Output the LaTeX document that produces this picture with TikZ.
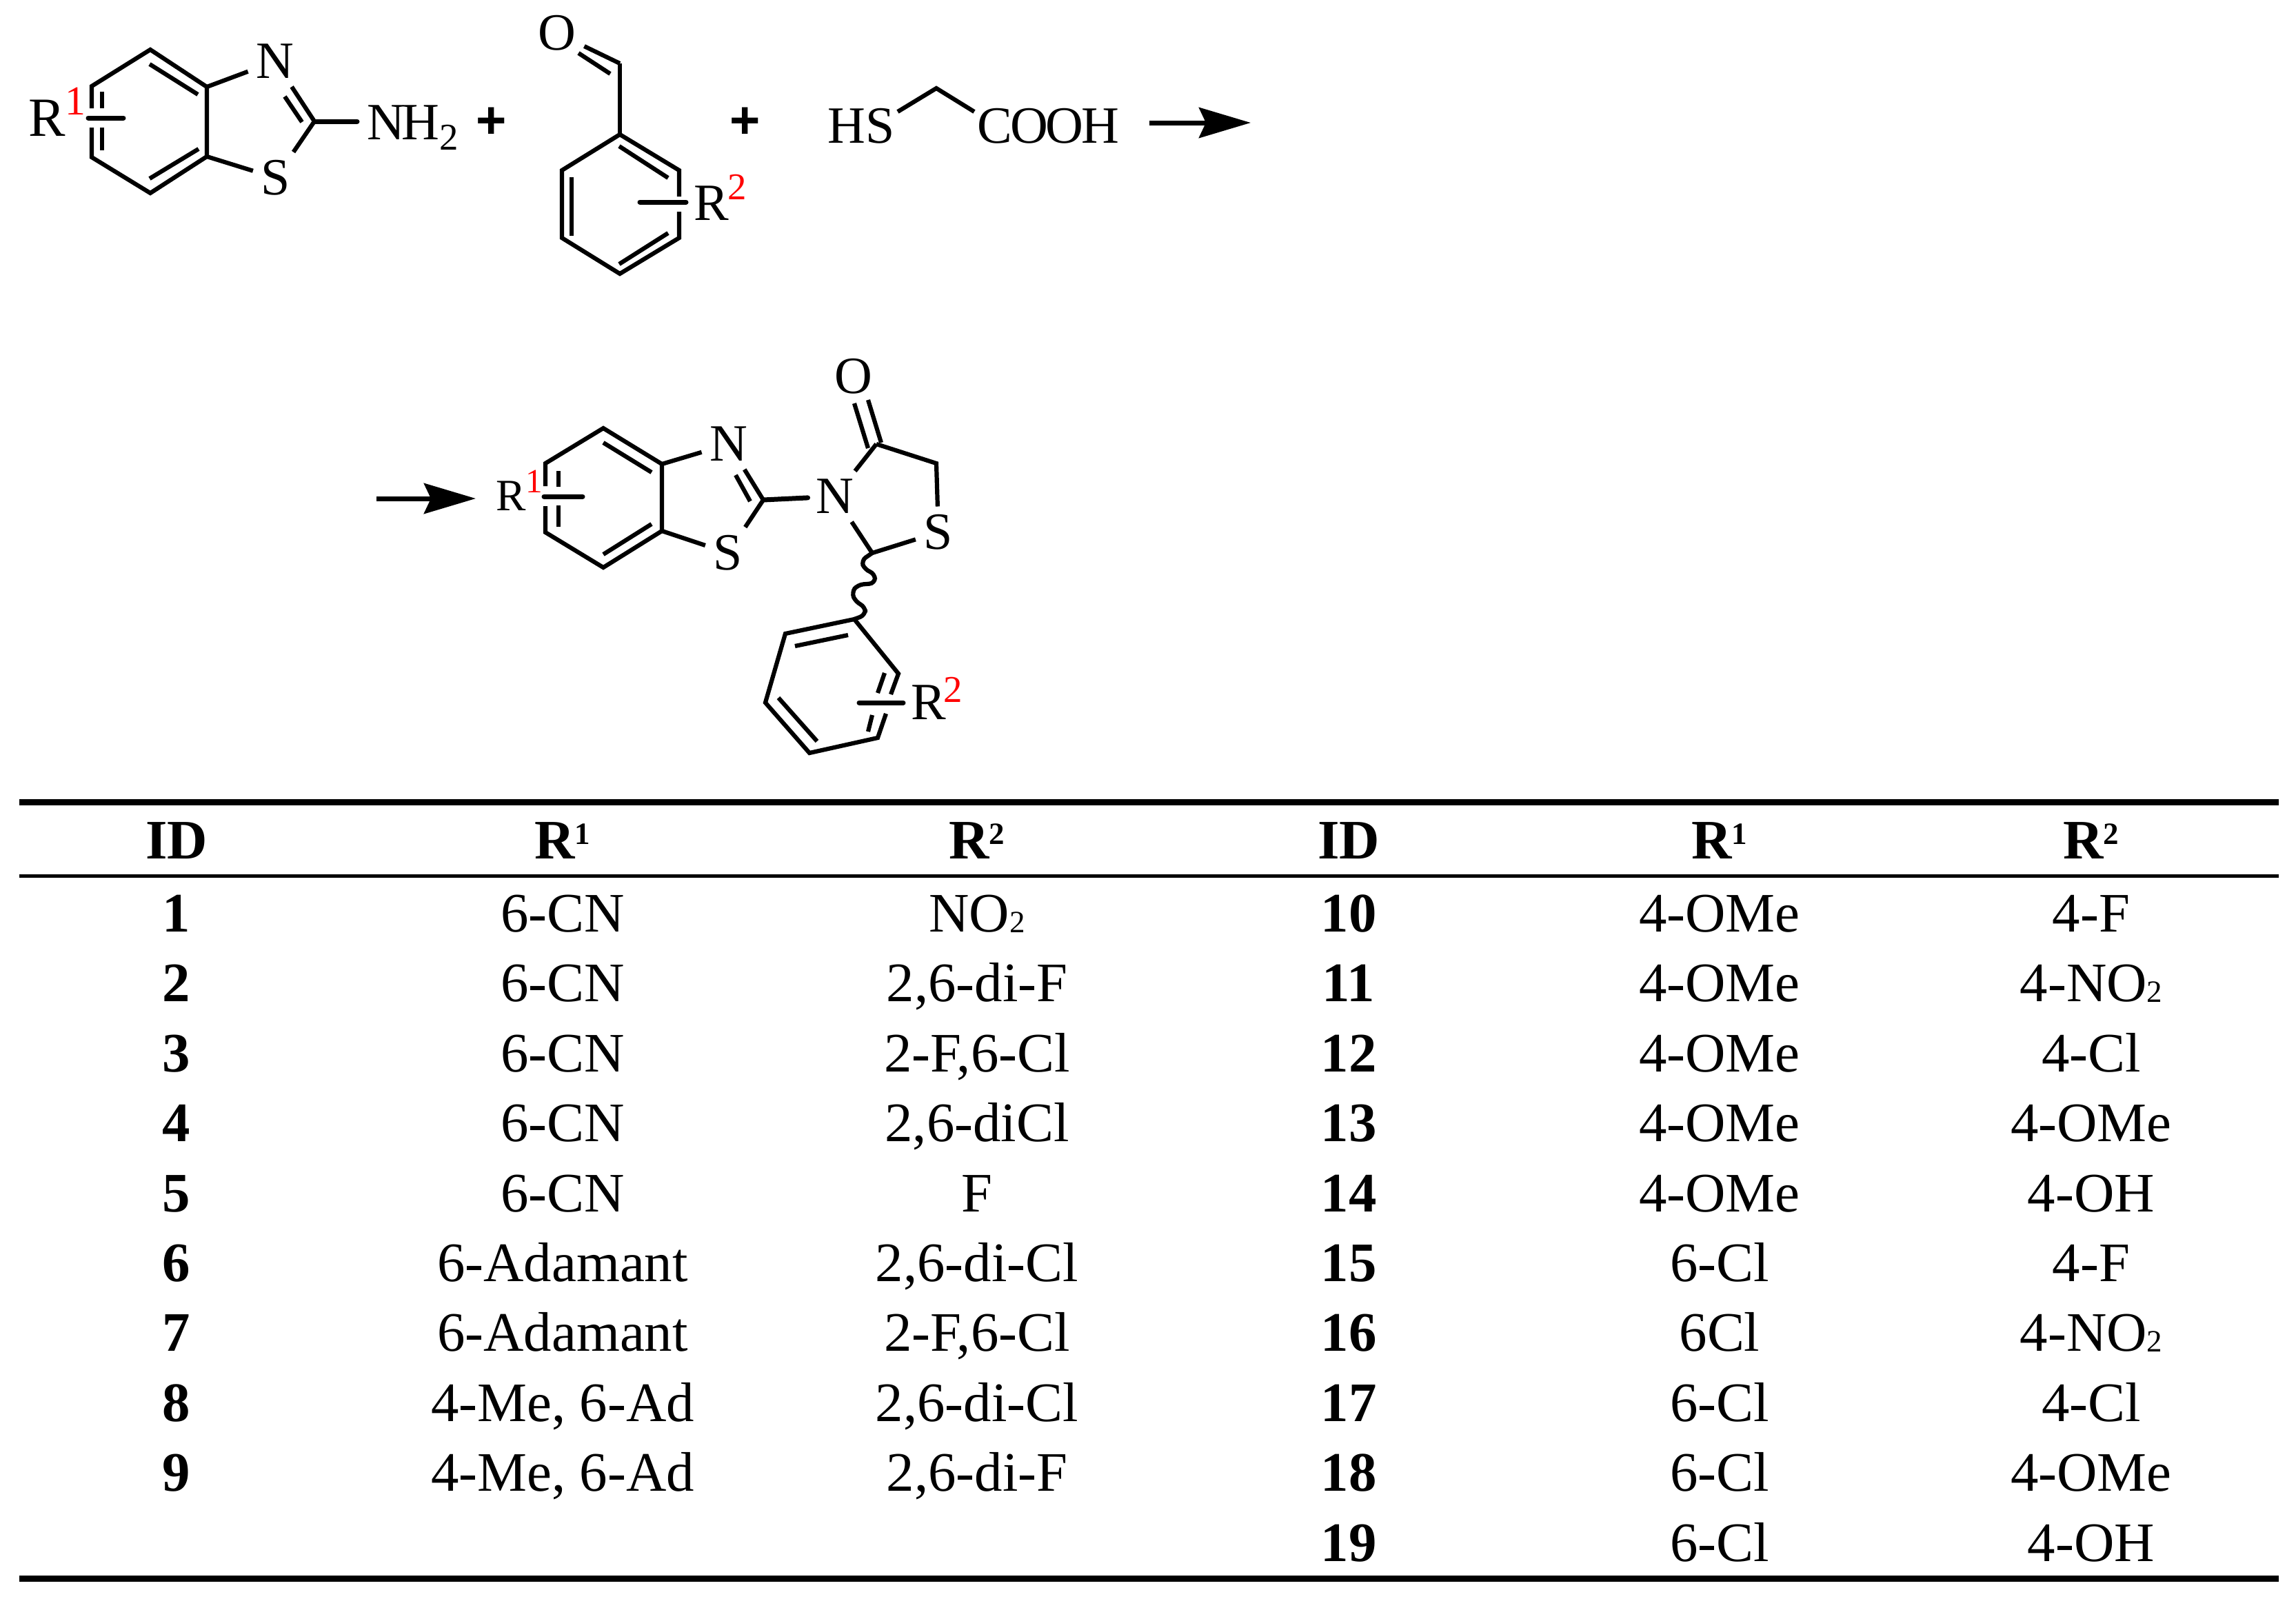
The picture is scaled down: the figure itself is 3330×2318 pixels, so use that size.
\documentclass[tikz,border=0pt]{standalone}
\usepackage{fontspec}
\setmainfont{Liberation Serif}
\setsansfont{Liberation Sans}
\usepackage{xcolor}
\usepackage{tikz}
\usetikzlibrary{arrows.meta}
\newcommand{\chemfont}{\fontsize{21.6}{24}\selectfont}
\newcommand{\tablefont}{\fontsize{23}{26}\selectfont}
\newcommand{\tablesub}{\raisebox{-.2pt}{\fontsize{12.8}{14}\selectfont 2}}
\newcommand{\headsup}[1]{\raisebox{6pt}{\fontsize{12.8}{14}\selectfont #1}}
\tikzstyle{bond} = [line width=.62mm]
\tikzstyle{bar} = [line width=.7mm,line cap=round]
\tikzstyle{arrow} = [line width=.7mm,->,>={Stealth[length=7.5mm,width=4.4mm,inset=1mm]}]
\tikzstyle{atom} = [inner sep=0pt,outer sep=1.2mm,font=\chemfont]
\tikzstyle{chem} = [inner sep=0pt,anchor=base west,font=\chemfont]
\tikzstyle{plus} = [inner sep=0pt,font=\chemfont\sffamily\bfseries]
\tikzstyle{redone} = [inner sep=0pt,anchor=base west,text=red]
\tikzstyle{cell} = [inner sep=0pt,text height=5.8mm,text depth=1.5mm,font=\tablefont]
\tikzstyle{cellb} = [cell,font=\tablefont\bfseries]
\tikzstyle{toprule} = [line width=.9mm]
\tikzstyle{midrule} = [line width=.5mm]

\begin{document}
\begin{tikzpicture}[x=.1mm,y=-.1mm,node distance=10.14mm]
\useasboundingbox (0,0) rectangle (3330,2318);

% benzothiazole
\coordinate (a1) at (218,72);
\coordinate (a2) at (300,126);
\coordinate (a3) at (300,227);
\coordinate (a4) at (218,280);
\coordinate (a5) at (133,228);
\coordinate (a6) at (133,125);
\coordinate (a7) at (456,176);
\coordinate (a8) at (518,176);
\coordinate (a5g) at (133,185);
\coordinate (a6g) at (133,157);
\coordinate (ab1) at (128,171);
\coordinate (ab2) at (179,171);
\coordinate (ai1) at (148,133);
\coordinate (ai2) at (148,157);
\coordinate (ai3) at (148,185);
\coordinate (ai4) at (148,218);
\coordinate (ai5) at (217,93);
\coordinate (ai6) at (287,137);
\coordinate (ai7) at (217,259);
\coordinate (ai8) at (288,216);
\coordinate (ai9) at (438,177);
\coordinate (ai10) at (413,140);
\node (an) [atom] at (399,89) {N};
\node (as) [atom] at (400,258) {S};
\node (anh) [chem] at (532,202) {N\kern-1.5pt H\raisebox{-4.3pt}{\fontsize{15.6}{16}\selectfont 2}};
\node (ar) [chem,font=\fontsize{22.8}{24}\selectfont] at (41,197) {R};
\node (ar1) [redone,font=\fontsize{17}{18}\selectfont] at (94,166) {1};
\draw [bond] (a5g) -- (a5) -- (a4) -- (a3) -- (a2) -- (a1) -- (a6) -- (a6g);
\draw [bar] (ab1) -- (ab2);
\draw [bond] (ai1) -- (ai2);
\draw [bond] (ai3) -- (ai4);
\draw [bond] (ai5) -- (ai6);
\draw [bond] (ai7) -- (ai8);
\draw [bond] (a2) -- (an);
\draw [bond] (a3) -- (as);
\draw [bond] (a7) -- (an);
\draw [bond] (ai9) -- (ai10);
\draw [bond] (a7) -- (as);
\draw [bar] (a7) -- (a8);
\node (plusa) [plus] at (713,178) {+};

% aldehyde
\coordinate (b0) at (899,92);
\coordinate (b1) at (899,195);
\coordinate (b2) at (985,247);
\coordinate (b3) at (985,345);
\coordinate (b4) at (899,397);
\coordinate (b5) at (815,345);
\coordinate (b6) at (815,247);
\coordinate (b2g) at (985,285);
\coordinate (b3g) at (985,307);
\coordinate (bb1) at (928,293);
\coordinate (bb2) at (995,293);
\coordinate (bi1) at (898,212);
\coordinate (bi2) at (969,258);
\coordinate (bi3) at (829,257);
\coordinate (bi4) at (829,342);
\coordinate (bi5) at (898,383);
\coordinate (bi6) at (969,338);
\coordinate (bi7) at (885,107);
\coordinate (bi8) at (839,77);
\node (bo) [atom] at (808,48) {O};
\node (br) [chem] at (1006,319) {R};
\node (br2) [redone,font=\fontsize{15.6}{16}\selectfont] at (1055,289) {2};
\draw [bond] (b2g) -- (b2) -- (b1) -- (b6) -- (b5) -- (b4) -- (b3) -- (b3g);
\draw [bond] (b1) -- (b0);
\draw [bond] (b0) -- (bo);
\draw [bond] (bi7) -- (bi8);
\draw [bar] (bb1) -- (bb2);
\draw [bond] (bi1) -- (bi2);
\draw [bond] (bi3) -- (bi4);
\draw [bond] (bi5) -- (bi6);
\node (plusb) [plus] at (1081,178) {+};

% thioglycolic acid
\node (hs) [chem] at (1200,207) {HS};
\node (cooh) [chem] at (1417,207) {C\kern-.8pt O\kern-1.2pt O\kern-.8pt H};
\coordinate (h1) at (1302,162);
\coordinate (h2) at (1358,128);
\coordinate (h3) at (1413,162);
\draw [bond] (h1) -- (h2) -- (h3);

% reaction arrows
\coordinate (ra1) at (1667,178);
\coordinate (ra2) at (1814,178);
\draw [arrow] (ra1) -- (ra2);
\coordinate (rb1) at (546,723);
\coordinate (rb2) at (690,723);
\draw [arrow] (rb1) -- (rb2);

% product
\coordinate (c1) at (875,621);
\coordinate (c2) at (960,673);
\coordinate (c3) at (960,770);
\coordinate (c4) at (875,823);
\coordinate (c5) at (791,772);
\coordinate (c6) at (791,672);
\coordinate (c7) at (1107,725);
\coordinate (c8) at (1271,644);
\coordinate (c9) at (1358,672);
\coordinate (c11) at (1265,802);
\coordinate (c5g) at (791,734);
\coordinate (c6g) at (791,705);
\coordinate (cb1) at (789,720);
\coordinate (cb2) at (845,720);
\coordinate (ci1) at (810,683);
\coordinate (ci2) at (810,706);
\coordinate (ci3) at (810,733);
\coordinate (ci4) at (810,764);
\coordinate (ci5) at (875,642);
\coordinate (ci6) at (945,685);
\coordinate (ci7) at (875,804);
\coordinate (ci8) at (945,760);
\coordinate (ci9) at (1088,727);
\coordinate (ci10) at (1067,689);
\coordinate (co1) at (1278,642);
\coordinate (co2) at (1259,580);
\coordinate (co3) at (1259,650);
\coordinate (co4) at (1239,585);
\node (cn) [atom] at (1057,644) {N};
\node (cs) [atom] at (1056,802) {S};
\node (cn2) [atom] at (1211,720) {N};
\node (cs2) [atom] at (1361,772) {S};
\node (co) [atom] at (1238,546) {O};
\node (cr) [chem,font=\fontsize{18.5}{20}\selectfont] at (719,740) {R};
\node (cr1) [redone,font=\fontsize{14}{16}\selectfont] at (762,714) {1};
\draw [bond] (c5g) -- (c5) -- (c4) -- (c3) -- (c2) -- (c1) -- (c6) -- (c6g);
\draw [bar] (cb1) -- (cb2);
\draw [bond] (ci1) -- (ci2);
\draw [bond] (ci3) -- (ci4);
\draw [bond] (ci5) -- (ci6);
\draw [bond] (ci7) -- (ci8);
\draw [bond] (c2) -- (cn);
\draw [bond] (c3) -- (cs);
\draw [bond] (c7) -- (cn);
\draw [bond] (ci9) -- (ci10);
\draw [bond] (c7) -- (cs);
\draw [bar] (c7) -- (cn2);
\draw [bond] (c8) -- (cn2);
\draw [bond] (cn2) -- (c11);
\draw [bond] (co1) -- (co2);
\draw [bond] (co3) -- (co4);
\draw [bond] (c8) -- (c9) -- (cs2);
\draw [bond] (c11) -- (cs2);

% lower ring
\coordinate (d1) at (1239,898);
\coordinate (d2) at (1139,919);
\coordinate (d3) at (1110,1019);
\coordinate (d4) at (1174,1092);
\coordinate (d5) at (1273,1070);
\coordinate (d6) at (1303,977);
\coordinate (d5g) at (1285,1035);
\coordinate (d6g) at (1292,1007);
\coordinate (db1) at (1246,1019);
\coordinate (db2) at (1310,1019);
\coordinate (di1) at (1153,937);
\coordinate (di2) at (1230,921);
\coordinate (di3) at (1129,1012);
\coordinate (di4) at (1185,1075);
\coordinate (di5) at (1283,976);
\coordinate (di6) at (1273,1005);
\coordinate (di7) at (1265,1037);
\coordinate (di8) at (1259,1061);
\node (dr) [chem] at (1321,1043) {R};
\node (dr2) [redone,font=\fontsize{15.6}{16}\selectfont] at (1368,1018) {2};
\draw [bond,rounded corners=.8mm] (c11) -- (1249,813) -- (1254,826) -- (1269,832) -- (1269,846) -- (1244,848) -- (1235,859) -- (1241,873) -- (1255,880) -- (1255,892) -- (d1);
\draw [bond] (d5g) -- (d5) -- (d4) -- (d3) -- (d2) -- (d1) -- (d6) -- (d6g);
\draw [bar] (db1) -- (db2);
\draw [bond] (di1) -- (di2);
\draw [bond] (di3) -- (di4);
\draw [bond] (di5) -- (di6);
\draw [bond] (di7) -- (di8);

% table rules
\coordinate (t1) at (28,1163);
\coordinate (t2) at (3305,1163);
\coordinate (t3) at (28,1270);
\coordinate (t4) at (3305,1270);
\coordinate (t5) at (28,2289);
\coordinate (t6) at (3305,2289);
\draw [toprule] (t1) -- (t2);
\draw [midrule] (t3) -- (t4);
\draw [toprule] (t5) -- (t6);

% table header
\node (hid) [cellb] at (256,1224) {ID};
\node (hra) [cellb] at (816,1224) {R\headsup{1}};
\node (hrb) [cellb] at (1417,1224) {R\headsup{2}};
\node (hidr) [cellb] at (1956,1224) {ID};
\node (hrar) [cellb] at (2494,1224) {R\headsup{1}};
\node (hrbr) [cellb] at (3033,1224) {R\headsup{2}};

% left half
\node (id1) [cellb] at (256,1330) {1};
\node (id2) [cellb, below of=id1] {2};
\node (id3) [cellb, below of=id2] {3};
\node (id4) [cellb, below of=id3] {4};
\node (id5) [cellb, below of=id4] {5};
\node (id6) [cellb, below of=id5] {6};
\node (id7) [cellb, below of=id6] {7};
\node (id8) [cellb, below of=id7] {8};
\node (id9) [cellb, below of=id8] {9};
\node (ra1n) [cell] at (816,1330) {6-CN};
\node (ra2n) [cell, below of=ra1n] {6-CN};
\node (ra3n) [cell, below of=ra2n] {6-CN};
\node (ra4n) [cell, below of=ra3n] {6-CN};
\node (ra5n) [cell, below of=ra4n] {6-CN};
\node (ra6n) [cell, below of=ra5n] {6-Adamant};
\node (ra7n) [cell, below of=ra6n] {6-Adamant};
\node (ra8n) [cell, below of=ra7n] {4-Me, 6-Ad};
\node (ra9n) [cell, below of=ra8n] {4-Me, 6-Ad};
\node (rb1n) [cell] at (1417,1330) {NO\tablesub};
\node (rb2n) [cell, below of=rb1n] {2,6-di-F};
\node (rb3n) [cell, below of=rb2n] {2-F,6-Cl};
\node (rb4n) [cell, below of=rb3n] {2,6-diCl};
\node (rb5n) [cell, below of=rb4n] {F};
\node (rb6n) [cell, below of=rb5n] {2,6-di-Cl};
\node (rb7n) [cell, below of=rb6n] {2-F,6-Cl};
\node (rb8n) [cell, below of=rb7n] {2,6-di-Cl};
\node (rb9n) [cell, below of=rb8n] {2,6-di-F};

% right half
\node (id10) [cellb] at (1956,1330) {10};
\node (id11) [cellb, below of=id10] {11};
\node (id12) [cellb, below of=id11] {12};
\node (id13) [cellb, below of=id12] {13};
\node (id14) [cellb, below of=id13] {14};
\node (id15) [cellb, below of=id14] {15};
\node (id16) [cellb, below of=id15] {16};
\node (id17) [cellb, below of=id16] {17};
\node (id18) [cellb, below of=id17] {18};
\node (id19) [cellb, below of=id18] {19};
\node (ra10n) [cell] at (2494,1330) {4-OMe};
\node (ra11n) [cell, below of=ra10n] {4-OMe};
\node (ra12n) [cell, below of=ra11n] {4-OMe};
\node (ra13n) [cell, below of=ra12n] {4-OMe};
\node (ra14n) [cell, below of=ra13n] {4-OMe};
\node (ra15n) [cell, below of=ra14n] {6-Cl};
\node (ra16n) [cell, below of=ra15n] {6Cl};
\node (ra17n) [cell, below of=ra16n] {6-Cl};
\node (ra18n) [cell, below of=ra17n] {6-Cl};
\node (ra19n) [cell, below of=ra18n] {6-Cl};
\node (rb10n) [cell] at (3033,1330) {4-F};
\node (rb11n) [cell, below of=rb10n] {4-NO\tablesub};
\node (rb12n) [cell, below of=rb11n] {4-Cl};
\node (rb13n) [cell, below of=rb12n] {4-OMe};
\node (rb14n) [cell, below of=rb13n] {4-OH};
\node (rb15n) [cell, below of=rb14n] {4-F};
\node (rb16n) [cell, below of=rb15n] {4-NO\tablesub};
\node (rb17n) [cell, below of=rb16n] {4-Cl};
\node (rb18n) [cell, below of=rb17n] {4-OMe};
\node (rb19n) [cell, below of=rb18n] {4-OH};
\end{tikzpicture}
\end{document}
